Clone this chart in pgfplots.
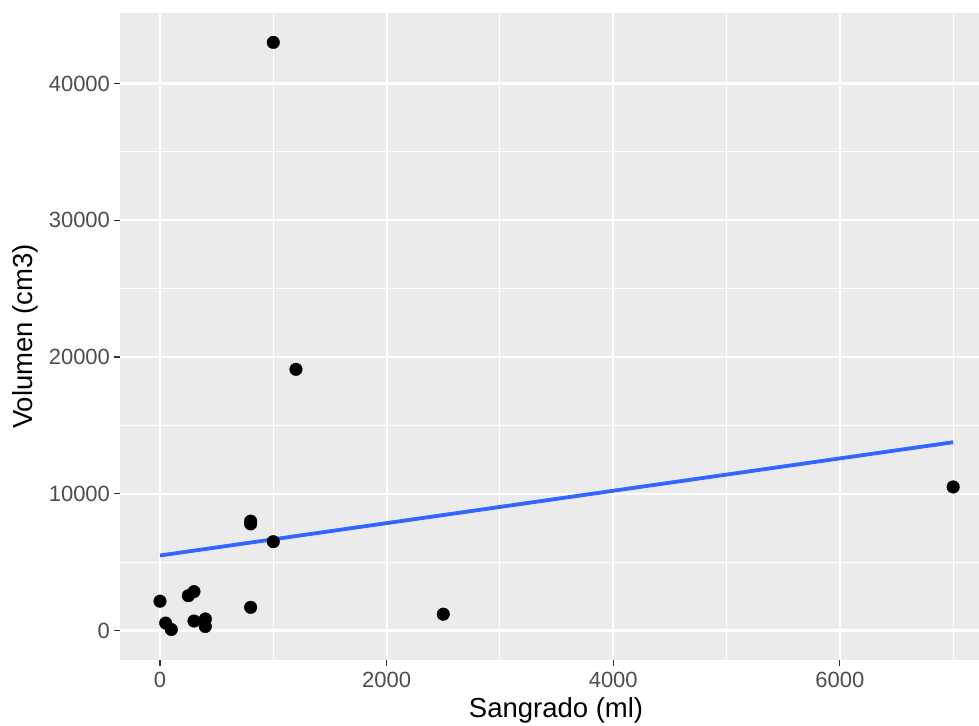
\documentclass[border=0pt]{standalone}
\usepackage{fontspec}
\setmainfont{Liberation Sans}
\usepackage{pgfplots}
\pgfplotsset{compat=1.18}
\definecolor{panel}{HTML}{EBEBEB}
\definecolor{ticktext}{HTML}{4D4D4D}
\definecolor{tickmark}{HTML}{333333}
\definecolor{fitblue}{HTML}{3366FF}

\begin{document}
\begin{tikzpicture}
% picture frame, 1pt = 1px of the reference
\path[use as bounding box] (-120pt,-65pt) rectangle (859pt,660pt);
\begin{axis}[
  scale only axis, width=859pt, height=647pt,
  xmin=-353, xmax=7228, ymin=-2150, ymax=45150,
  axis background/.style={fill=panel},
  axis line style={draw=none},
  xtick={0,2000,4000,6000}, ytick={0,10000,20000,30000,40000},
  minor xtick={1000,3000,5000,7000}, minor ytick={5000,15000,25000,35000},
  grid=both,
  major grid style={white, line width=2.2pt},
  minor grid style={white, line width=1.1pt},
  tick align=outside, major tick length=5.5pt, minor tick length=0pt,
  every tick/.style={tickmark, line width=1.1pt},
  tick pos=left,
  scaled ticks=false,
  /pgf/number format/assume math mode=true,
  /pgf/number format/set thousands separator={},
  tick label style={font=\fontsize{22}{26}\selectfont, text=ticktext},
  xticklabel style={yshift=-3pt},
  yticklabel style={xshift=-1pt},
  label style={font=\fontsize{27.5}{32}\selectfont},
  xlabel={Sangrado (ml)}, ylabel={Volumen (cm3)},
  xlabel style={at={(axis description cs:0.5076,-0.0896)}, anchor=base},
  ylabel style={at={(axis description cs:-0.1013,0.5)}, anchor=base},
  clip=false,
]
\addplot[only marks, mark=*, mark size=6.3pt, black] coordinates {
  (0,2150) (50,550) (100,80) (250,2550) (300,2850) (300,700)
  (400,850) (400,300) (800,1700) (800,7800) (800,8000) (1000,6500)
  (1000,43000) (1200,19100) (2500,1200) (7000,10500)
};
% least squares line (geom_smooth, method = lm)
\addplot[fitblue, line width=3.8pt, no marks] coordinates {
  (0,5490) (7000,13770)
};
\end{axis}
\end{tikzpicture}
\end{document}
